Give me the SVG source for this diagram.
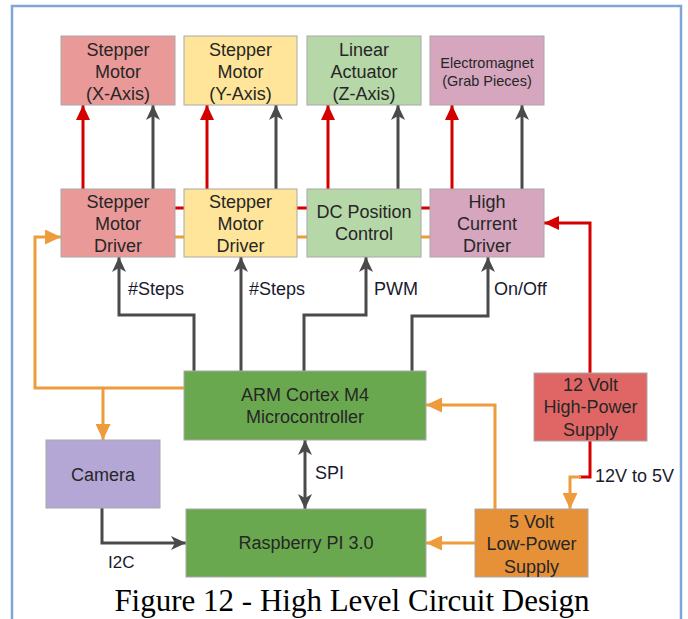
<svg xmlns="http://www.w3.org/2000/svg" width="688" height="619" viewBox="0 0 688 619">
<defs>
<style>
.box{stroke:#a8a8a8;stroke-width:1}
.t{font-family:"Liberation Sans",Arial,sans-serif;font-size:18px;fill:#262626;text-anchor:middle}
.ts{font-family:"Liberation Sans",Arial,sans-serif;font-size:14.5px;fill:#262626;text-anchor:middle}
.lb{font-family:"Liberation Sans",Arial,sans-serif;font-size:18px;fill:#1a1a2e}
.red{fill:none;stroke:#d40000;stroke-width:3}
.dark{fill:none;stroke:#4a4a4a;stroke-width:3}
.org{fill:none;stroke:#ee9b3c;stroke-width:3}
</style>
<marker id="aR" markerUnits="userSpaceOnUse" markerWidth="15" markerHeight="14" refX="15" refY="7" orient="auto"><path d="M0,0 L15,7 L0,14 z" fill="#d40000"/></marker>
<marker id="aO" markerUnits="userSpaceOnUse" markerWidth="16" markerHeight="15" refX="16" refY="7.5" orient="auto"><path d="M0,0 L16,7.5 L0,15 z" fill="#ee9b3c"/></marker>
<marker id="aD" markerUnits="userSpaceOnUse" markerWidth="15" markerHeight="14" refX="15" refY="7" orient="auto-start-reverse"><path d="M0,0 L15,7 L0,14 L4,7 z" fill="#4a4a4a"/></marker>
</defs>
<rect x="0" y="0" width="688" height="619" fill="#ffffff"/>
<rect x="12" y="6" width="669" height="640" fill="none" stroke="#7ea6d8" stroke-width="2.5"/>

<g id="connectors">
<line class="red" x1="170" y1="208" x2="435" y2="208"/>
<line class="org" x1="170" y1="237" x2="435" y2="237"/>
<path class="red" d="M83 189 V105" marker-end="url(#aR)"/>
<path class="red" d="M207 189 V105" marker-end="url(#aR)"/>
<path class="red" d="M328 189 V105" marker-end="url(#aR)"/>
<path class="red" d="M452 189 V105" marker-end="url(#aR)"/>
<path class="dark" d="M153 189 V105" marker-end="url(#aD)"/>
<path class="dark" d="M276 189 V105" marker-end="url(#aD)"/>
<path class="dark" d="M398 189 V105" marker-end="url(#aD)"/>
<path class="dark" d="M522 189 V105" marker-end="url(#aD)"/>
<path class="dark" d="M194 371 V315 H119 V257" marker-end="url(#aD)"/>
<path class="dark" d="M241 371 V257" marker-end="url(#aD)"/>
<path class="dark" d="M304 371 V315 H366 V257" marker-end="url(#aD)"/>
<path class="dark" d="M412 371 V316 H488 V257" marker-end="url(#aD)"/>
<path class="org" d="M184 388 H35 V237 H61" marker-end="url(#aO)"/>
<path class="org" d="M103 388 V440" marker-end="url(#aO)"/>
<path class="red" d="M590 373 V223 H544" marker-end="url(#aR)"/>
<path class="red" d="M590 441 V477 H579"/>
<path class="org" d="M581 477 H570 V509" marker-end="url(#aO)"/>
<path class="org" d="M495 509 V405 H426" marker-end="url(#aO)"/>
<path class="org" d="M475 543 H426" marker-end="url(#aO)"/>
<path class="dark" d="M102 508 V543 H186" marker-end="url(#aD)"/>
<path class="dark" d="M305 440 V509" marker-start="url(#aD)" marker-end="url(#aD)"/>
<text class="lb" x="128" y="295">#Steps</text>
<text class="lb" x="249" y="295">#Steps</text>
<text class="lb" x="374" y="295">PWM</text>
<text class="lb" x="494" y="295">On/Off</text>
<text class="lb" x="315" y="479">SPI</text>
<text class="lb" x="108" y="568" style="font-size:17px">I2C</text>
<text class="lb" x="595" y="482">12V to 5V</text>
</g>

<g id="motorX"><rect class="box" x="61" y="36" width="114" height="69" fill="#ea9999"/>
<text class="t" x="118" y="56">Stepper</text><text class="t" x="118" y="78">Motor</text><text class="t" x="118" y="100">(X-Axis)</text></g>
<g id="motorY"><rect class="box" x="184" y="36" width="113" height="69" fill="#ffe599"/>
<text class="t" x="240.5" y="56">Stepper</text><text class="t" x="240.5" y="78">Motor</text><text class="t" x="240.5" y="100">(Y-Axis)</text></g>
<g id="actuatorZ"><rect class="box" x="307" y="36" width="114" height="69" fill="#b6d7a8"/>
<text class="t" x="364" y="56">Linear</text><text class="t" x="364" y="78">Actuator</text><text class="t" x="364" y="100">(Z-Axis)</text></g>
<g id="electromagnet"><rect class="box" x="430" y="36" width="114" height="69" fill="#d5a6bd"/>
<text class="ts" x="487" y="68">Electromagnet</text><text class="ts" x="487" y="86">(Grab Pieces)</text></g>

<g id="driverX"><rect class="box" x="61" y="189" width="114" height="68" fill="#ea9999"/>
<text class="t" x="118" y="208">Stepper</text><text class="t" x="118" y="230">Motor</text><text class="t" x="118" y="252">Driver</text></g>
<g id="driverY"><rect class="box" x="184" y="189" width="113" height="68" fill="#ffe599"/>
<text class="t" x="240.5" y="208">Stepper</text><text class="t" x="240.5" y="230">Motor</text><text class="t" x="240.5" y="252">Driver</text></g>
<g id="dcControl"><rect class="box" x="307" y="189" width="114" height="68" fill="#b6d7a8"/>
<text class="t" x="364" y="218">DC Position</text><text class="t" x="364" y="240">Control</text></g>
<g id="highCurrent"><rect class="box" x="430" y="189" width="114" height="68" fill="#d5a6bd"/>
<text class="t" x="487" y="208">High</text><text class="t" x="487" y="230">Current</text><text class="t" x="487" y="252">Driver</text></g>

<g id="arm"><rect class="box" x="184" y="371" width="242" height="69" fill="#6aa84f"/>
<text class="t" x="305" y="401">ARM Cortex M4</text><text class="t" x="305" y="423">Microcontroller</text></g>
<g id="camera"><rect class="box" x="46" y="440" width="114" height="68" fill="#b4a7d6"/>
<text class="t" x="103" y="481">Camera</text></g>
<g id="raspberry"><rect class="box" x="186" y="509" width="240" height="68" fill="#6aa84f"/>
<text class="t" x="306" y="549">Raspberry PI 3.0</text></g>
<g id="supply12"><rect class="box" x="534" y="373" width="113" height="68" fill="#e06666"/>
<text class="t" x="590.5" y="391">12 Volt</text><text class="t" x="590.5" y="413">High-Power</text><text class="t" x="590.5" y="436">Supply</text></g>
<g id="supply5"><rect class="box" x="475" y="509" width="113" height="68" fill="#e69138"/>
<text class="t" x="531.5" y="528">5 Volt</text><text class="t" x="531.5" y="550">Low-Power</text><text class="t" x="531.5" y="573">Supply</text></g>

<text x="352" y="611" style="font-family:'Liberation Serif','Times New Roman',serif;font-size:31px;fill:#000;text-anchor:middle">Figure 12 - High Level Circuit Design</text>
</svg>
